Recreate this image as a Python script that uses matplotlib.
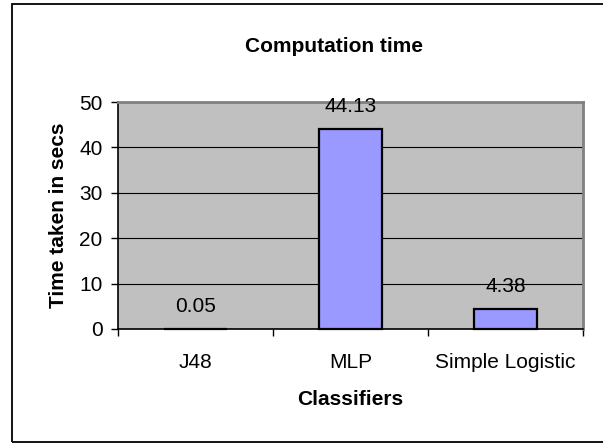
import matplotlib
matplotlib.use('Agg')
import matplotlib.pyplot as plt
from matplotlib.patches import Rectangle

plt.rcParams['font.family'] = ['Liberation Sans', 'DejaVu Sans']
plt.rcParams['font.size'] = 15

# data
classifiers = ['J48', 'MLP', 'Simple Logistic']
times = [0.05, 44.13, 4.38]
value_labels = ['0.05', '44.13', '4.38']
yticks = [0, 10, 20, 30, 40, 50]

fig = plt.figure(figsize=(6.03, 4.43), dpi=100)
ax = fig.add_axes([118 / 603, 1 - 329 / 443, (583 - 118) / 603, (329 - 102) / 443])

ax.set_facecolor('#c0c0c0')
x = list(range(len(classifiers)))
ax.bar(x, times, width=0.41, color='#9999ff', edgecolor='black', linewidth=1.6,
       zorder=4, clip_on=False)

for xi, t, lab in zip(x, times, value_labels):
    ax.annotate(lab, (xi, t), xytext=(0, 16), textcoords='offset points',
                ha='center', va='center', fontsize=15)

ax.set_xlim(-0.5, 2.5)
ax.set_ylim(0, 50)
ax.set_yticks(yticks)
ax.yaxis.grid(True, color='black', linewidth=0.8, zorder=1)
ax.set_axisbelow(True)

ax.set_xticks(x)
ax.set_xticklabels(classifiers)
ax.set_xticks([-0.5, 0.5, 1.5, 2.5], minor=True)
ax.tick_params(axis='x', which='major', length=0, pad=17)
ax.tick_params(axis='x', which='minor', length=5, width=1, direction='out')
ax.tick_params(axis='y', length=5, width=1, direction='out', pad=6)

for s in ['left', 'bottom']:
    ax.spines[s].set_color('black')
    ax.spines[s].set_linewidth(1.2)
for s in ['top', 'right']:
    ax.spines[s].set_color('#808080')
    ax.spines[s].set_linewidth(2)

ax.set_ylabel('Time taken in secs', fontweight='bold', labelpad=8)
ax.set_xlabel('Classifiers', fontweight='bold', labelpad=13)
fig.text(334 / 603, 1 - 46 / 443, 'Computation time', ha='center', va='center',
         fontweight='bold', fontsize=15)

# chart border (right side runs off the picture)
fig.patches.append(Rectangle((12 / 603, 1.5 / 443), 600 / 603, 437.5 / 443, transform=fig.transFigure,
                             fill=False, edgecolor='black', linewidth=1.3))

fig.savefig('out.png', dpi=100)
